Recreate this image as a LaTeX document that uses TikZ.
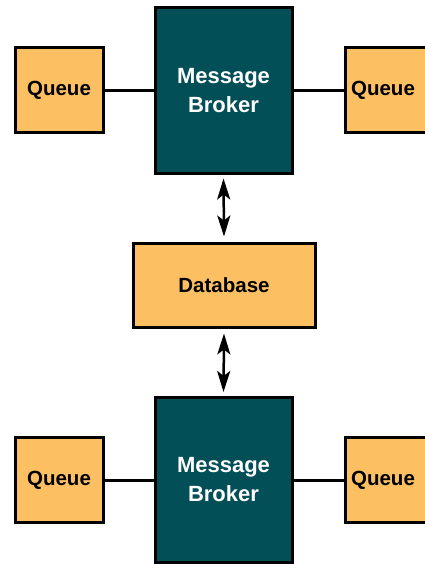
\documentclass[tikz,border=0pt]{standalone}
\usepackage{fontspec}
\setmainfont{Liberation Sans}
\usetikzlibrary{arrows.meta}
\definecolor{brokerteal}{HTML}{034F58}
\definecolor{queueorange}{HTML}{FCC062}
\tikzset{
  box/.style={draw=black, line width=3pt, inner sep=0pt, align=center},
  queuebox/.style={box, fill=queueorange, minimum width=88pt, minimum height=85pt,
    font=\fontsize{20.5}{23}\selectfont\bfseries},
  brokerbox/.style={box, fill=brokerteal, text=white, minimum width=137pt, minimum height=165pt,
    font=\fontsize{22}{29}\selectfont\bfseries},
  dbbox/.style={box, fill=queueorange, minimum width=182pt, minimum height=84pt,
    font=\fontsize{20.5}{23}\selectfont\bfseries},
  link/.style={line width=3pt},
  tip/.tip={Stealth[length=21pt,width=13pt,inset=5pt]},
  biarrow/.style={line width=2.5pt, arrows={tip-tip}}
}
\begin{document}
\begin{tikzpicture}[x=1pt,y=-1pt]
  \useasboundingbox (0,0) rectangle (425,564);
  \clip (0,0) rectangle (425,564);
  \fill[white] (0,0) rectangle (425,564);

  % upper broker with its queues
  \node[brokerbox] (b1) at (223.5,90.5) {Message\\Broker};
  \node[queuebox] (q1l) at (59,90.5) {Queue};
  \node[queuebox] (q1r) at (389,90.5) {Queue\hspace*{12pt}};

  % database
  \node[dbbox] (db) at (224,285) {Database};

  % lower broker with its queues
  \node[brokerbox] (b2) at (223.5,480) {Message\\Broker};
  \node[queuebox] (q2l) at (59,480) {Queue};
  \node[queuebox] (q2r) at (389,480) {Queue\hspace*{12pt}};

  % connectors
  \draw[link] (q1l.east) -- (b1.west);
  \draw[link] (b1.east) -- (q1r.west);
  \draw[link] (q2l.east) -- (b2.west);
  \draw[link] (b2.east) -- (q2r.west);
  \draw[biarrow] ([yshift=-4pt]b1.south) -- ([yshift=5pt]db.north);
  \draw[biarrow] ([yshift=-5pt]db.south) -- ([yshift=4pt]b2.north);
\end{tikzpicture}
\end{document}
